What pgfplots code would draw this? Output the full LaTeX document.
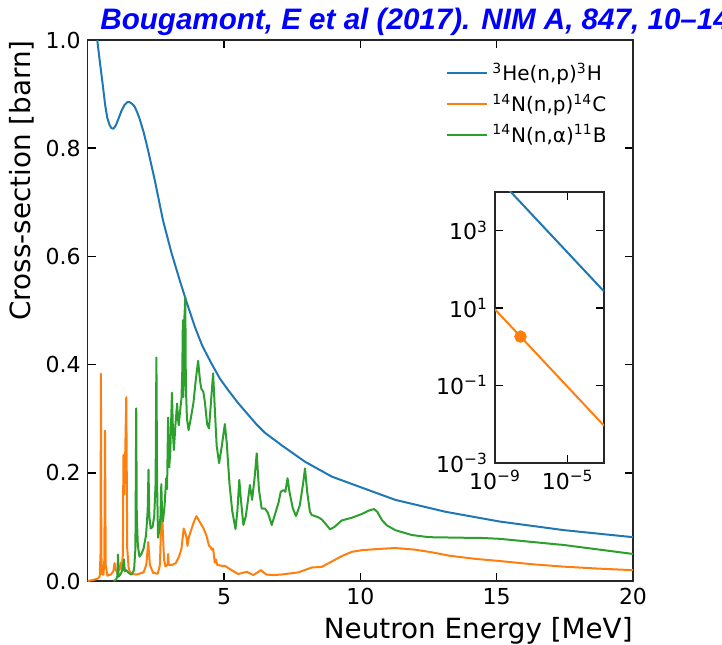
\documentclass[border=0pt]{standalone}
\usepackage{fontspec}
\setmainfont{DejaVu Sans}
\newfontfamily\titlefont{Liberation Sans}
\usepackage{pgfplots}
\pgfplotsset{compat=1.18}

\definecolor{c0}{HTML}{1F77B4}
\definecolor{c1}{HTML}{FF7F0E}
\definecolor{c2}{HTML}{2CA02C}

\begin{document}
\begin{tikzpicture}
\useasboundingbox (0,0) rectangle (361pt,322pt);
\begin{axis}[
  at={(43.85pt,31.5pt)}, anchor=south west,
  scale only axis, width=272.65pt, height=270.5pt,
  xmin=0, xmax=20, ymin=0, ymax=1,
  xtick={5,10,15,20}, xticklabels={5,10,15,20},
  ytick={0,0.2,0.4,0.6,0.8,1.0}, yticklabels={0.0,0.2,0.4,0.6,0.8,1.0},
  minor tick num=0,
  tick align=inside, major tick length=4pt,
  xtick pos=both, ytick pos=both,
  tick style={black, line width=0.8pt},
  axis line style={line width=0.8pt, black!85},
  ticklabel style={font=\fontsize{11}{13}\selectfont},
  xlabel={Neutron Energy [MeV]},
  ylabel={Cross-section [barn]},
  label style={font=\fontsize{13.9}{16}\selectfont},
  xlabel style={at={(axis description cs:1,-0.1054)}, anchor=base east, inner sep=0pt},
  ylabel style={at={(axis description cs:-0.0966,1)}, anchor=south east, inner sep=0pt},
  legend style={draw=none, fill=none, inner sep=0pt, at={(axis description cs:0.657,0.966)}, anchor=north west, font=\fontsize{10}{12}\selectfont, row sep=1.2pt},
  legend cell align=left,
  legend image code/.code={\draw[#1, line width=1pt] (0pt,0pt) -- (20pt,0pt);},
  every axis plot/.append style={line width=1pt, line join=round},
]
\addplot[c0, sharp plot] coordinates {
(0.10,1.14) (0.20,1.08) (0.30,1.02) (0.35,1.0) (0.45,0.958) (0.55,0.918) (0.64,0.880)
(0.72,0.856) (0.80,0.843) (0.87,0.837) (0.94,0.836) (1.02,0.841) (1.11,0.852) (1.23,0.868)
(1.35,0.880) (1.45,0.885) (1.54,0.885) (1.63,0.882) (1.72,0.877) (1.81,0.867) (1.90,0.855)
(2.05,0.830) (2.21,0.797) (2.46,0.741) (2.76,0.667) (3.07,0.607) (3.375,0.556) (3.65,0.512)
(3.93,0.470) (4.20,0.435) (4.54,0.402) (4.85,0.374) (5.15,0.353) (5.50,0.330) (5.89,0.307)
(6.20,0.289) (6.50,0.274) (7.11,0.251) (7.97,0.2205) (8.95,0.193) (10.06,0.1725)
(11.28,0.150) (13.12,0.128) (15.10,0.110) (17.47,0.094) (20.0,0.081)
};
\addlegendentry{\textsuperscript{3}He(n,p)\textsuperscript{3}H}
\addplot[c1, sharp plot] coordinates {
(0.0,0.0) (0.20,0.002) (0.35,0.004) (0.44,0.008) (0.47,0.05) (0.485,0.383) (0.50,0.05)
(0.53,0.012) (0.58,0.012) (0.61,0.04) (0.635,0.278) (0.66,0.03) (0.72,0.010) (0.85,0.012)
(0.94,0.018) (0.985,0.033) (1.03,0.020) (1.08,0.016) (1.15,0.020) (1.21,0.034) (1.25,0.020)
(1.29,0.05) (1.31,0.233) (1.34,0.16) (1.37,0.22) (1.415,0.34) (1.45,0.06) (1.50,0.025)
(1.57,0.013) (1.80,0.012) (2.05,0.016) (2.15,0.03) (2.22,0.072) (2.28,0.03) (2.40,0.015)
(2.57,0.0135) (2.65,0.03) (2.70,0.12) (2.74,0.11) (2.80,0.04) (2.85,0.027) (2.93,0.03)
(2.95,0.05) (2.97,0.03) (3.10,0.03) (3.23,0.033) (3.35,0.045) (3.44,0.06) (3.52,0.097)
(3.57,0.09) (3.62,0.082) (3.66,0.065) (3.71,0.081) (3.80,0.095) (3.90,0.11) (3.99,0.12)
(4.10,0.11) (4.24,0.098) (4.35,0.085) (4.45,0.065) (4.50,0.063) (4.55,0.058) (4.60,0.06)
(4.66,0.034) (4.70,0.04) (4.75,0.03) (4.91,0.028) (5.03,0.028) (5.28,0.02) (5.52,0.013)
(5.83,0.017) (6.07,0.011) (6.20,0.015) (6.35,0.02) (6.55,0.012) (6.80,0.011) (7.11,0.012)
(7.73,0.016) (8.22,0.025) (8.58,0.026) (8.95,0.036) (9.32,0.046) (9.69,0.054) (10.06,0.057)
(10.60,0.059) (11.28,0.061) (12.00,0.058) (12.63,0.053) (13.24,0.047) (14.20,0.041)
(15.10,0.037) (16.30,0.031) (17.47,0.0265) (18.70,0.023) (20.0,0.020)
};
\addlegendentry{\textsuperscript{14}N(n,p)\textsuperscript{14}C}
\addplot[c2, sharp plot] coordinates {
(0.95,0.0) (1.05,0.003) (1.09,0.01) (1.11,0.049) (1.13,0.008) (1.20,0.012) (1.27,0.02)
(1.33,0.04) (1.36,0.018) (1.42,0.02) (1.50,0.015) (1.60,0.012) (1.70,0.02) (1.75,0.06)
(1.78,0.319) (1.80,0.12) (1.84,0.065) (1.90,0.045) (1.97,0.05) (2.05,0.06) (2.14,0.085)
(2.20,0.13) (2.23,0.206) (2.26,0.12) (2.31,0.097) (2.38,0.10) (2.44,0.12) (2.49,0.18)
(2.52,0.413) (2.545,0.18) (2.58,0.08) (2.63,0.095) (2.67,0.12) (2.70,0.179) (2.73,0.12)
(2.76,0.11) (2.82,0.14) (2.88,0.19) (2.91,0.17) (2.95,0.302) (2.99,0.21) (3.03,0.24)
(3.09,0.348) (3.13,0.27) (3.16,0.242) (3.22,0.29) (3.28,0.328) (3.31,0.30) (3.34,0.288)
(3.40,0.32) (3.44,0.338) (3.47,0.39) (3.49,0.482) (3.51,0.34) (3.53,0.45) (3.55,0.49)
(3.58,0.525) (3.60,0.36) (3.64,0.30) (3.70,0.279) (3.78,0.30) (3.88,0.33) (3.96,0.37)
(4.05,0.407) (4.12,0.37) (4.17,0.355) (4.24,0.35) (4.30,0.33) (4.38,0.29) (4.45,0.282)
(4.52,0.33) (4.60,0.384) (4.66,0.32) (4.73,0.25) (4.82,0.218) (4.92,0.25) (5.03,0.29)
(5.10,0.255) (5.20,0.18) (5.30,0.13) (5.42,0.096) (5.49,0.13) (5.56,0.187) (5.62,0.15)
(5.71,0.1035) (5.80,0.12) (5.88,0.15) (5.95,0.1775) (6.03,0.15) (6.12,0.19) (6.20,0.236)
(6.28,0.17) (6.38,0.134) (6.50,0.134) (6.61,0.126) (6.75,0.1035) (6.88,0.125) (7.00,0.145)
(7.08,0.165) (7.18,0.168) (7.25,0.165) (7.33,0.19) (7.40,0.165) (7.52,0.135) (7.64,0.12)
(7.78,0.14) (7.90,0.18) (7.97,0.208) (8.05,0.165) (8.15,0.128) (8.22,0.122) (8.45,0.118)
(8.58,0.114) (8.72,0.106) (8.89,0.0955) (9.05,0.100) (9.32,0.112) (9.69,0.117) (10.06,0.124)
(10.30,0.130) (10.50,0.133) (10.62,0.128) (10.80,0.112) (10.97,0.103) (11.28,0.094)
(11.89,0.085) (12.51,0.081) (13.73,0.080) (14.50,0.0795) (15.10,0.078) (17.47,0.0665)
(20.0,0.050)
};
\addlegendentry{\textsuperscript{14}N(n,α)\textsuperscript{11}B}
\end{axis}

\begin{axis}[
  at={(247.5pt,90.5pt)}, anchor=south west,
  scale only axis, width=54.5pt, height=135.65pt,
  xmode=log, ymode=log,
  xmin=1e-9, xmax=1e-3, ymin=1e-3, ymax=1e4,
  xtick={1e-9,1e-5}, xticklabels={10\textsuperscript{−9},10\textsuperscript{−5}},
  ytick={1e-3,1e-1,1e1,1e3},
  yticklabels={10\textsuperscript{−3},10\textsuperscript{−1},10\textsuperscript{1},10\textsuperscript{3}},
  minor xtick={}, minor ytick={},
  tick align=inside, major tick length=4pt,
  xtick pos=both, ytick pos=both,
  tick style={black, line width=0.8pt},
  axis line style={line width=0.8pt, black!85},
  ticklabel style={font=\fontsize{11}{13}\selectfont},
  axis background/.style={fill=white},
  every axis plot/.append style={line width=1pt},
]
\addplot[c0, sharp plot] coordinates {(1e-9,26800) (1e-3,26.8)};
\addplot[c1, sharp plot] coordinates {(1e-9,9.2) (1e-3,0.0092)};
\addplot[c1, only marks, mark=*, mark size=2.6pt] coordinates {(2.53e-8,1.83)};
\end{axis}

\node[anchor=base west, inner sep=0pt, text=blue] at (50pt,307pt)
  {\titlefont\fontsize{14.8}{17}\selectfont\bfseries\itshape Bougamont, E et al (2017). NIM A, 847, 10–14};
\end{tikzpicture}
\end{document}
